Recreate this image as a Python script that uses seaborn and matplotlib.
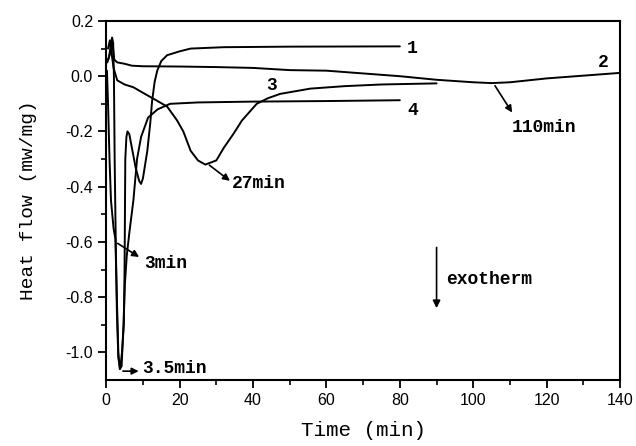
#!/usr/bin/env python3
"""
Heat flow vs time curves (DSC isothermal runs)
"""

import pandas as pd
import matplotlib.pyplot as plt
import seaborn as sns

# Curve 1
t1 = [0.3, 0.8, 1.2, 1.6, 1.9, 2.1, 2.3, 2.6, 2.9, 3.3, 3.8, 4.3, 4.8, 5.0, 5.1, 5.2, 5.5, 5.8,
      6.3, 7.0, 8.0, 9.0, 9.5, 10.0, 11.2, 12.0, 12.5, 13.2, 13.9, 15.0, 16.6, 20, 23, 32, 50, 80]
h1 = [0.05, 0.07, 0.11, 0.14, 0.12, 0.0, -0.3, -0.6, -0.85, -1.02, -1.06, -1.0, -0.9, -0.7, -0.5, -0.3, -0.22, -0.2,
      -0.21, -0.26, -0.33, -0.38, -0.39, -0.37, -0.27, -0.17, -0.09, -0.02, 0.02, 0.055, 0.076, 0.09, 0.1, 0.105, 0.107, 0.108]

# Curve 2
t2 = [0.5, 1.2, 1.7, 2.2, 3, 5, 7, 10, 20, 30, 40, 50, 60, 70, 80, 90, 100, 105, 110, 120, 130, 140]
h2 = [0.06, 0.09, 0.12, 0.06, 0.05, 0.045, 0.038, 0.036, 0.035, 0.033, 0.03, 0.022, 0.02, 0.01, 0.0, -0.013,
      -0.022, -0.025, -0.022, -0.008, 0.002, 0.012]

# Curve 3
t3 = [0.5, 1.0, 1.5, 2.0, 3, 5, 7.4, 10, 12, 14, 16.6, 19.3, 21, 23, 25, 27, 30, 32, 34.6, 37, 41, 44,
      47.4, 55.6, 65, 75, 90]
h3 = [0.1, 0.13, 0.08, 0.03, -0.015, -0.03, -0.04, -0.06, -0.075, -0.09, -0.11, -0.16, -0.2, -0.27, -0.305,
      -0.32, -0.305, -0.26, -0.21, -0.16, -0.1, -0.08, -0.064, -0.045, -0.036, -0.03, -0.026]

# Curve 4
t4 = [0.2, 0.5, 0.9, 1.3, 2.0, 2.5, 2.9, 3.3, 3.7, 4.2, 4.7, 5.1, 5.6, 6.3, 7.4, 8.4, 9.5, 11.4, 14, 17.4,
      25, 40, 60, 80]
h4 = [0.02, -0.1, -0.3, -0.45, -0.55, -0.59, -0.8, -1.0, -1.06, -1.05, -0.9, -0.75, -0.65, -0.567, -0.45,
      -0.3, -0.22, -0.15, -0.12, -0.1, -0.095, -0.092, -0.09, -0.087]

mono = 'Liberation Mono'

sns.set_style('ticks')
plt.rcParams['font.family'] = ['Liberation Sans', 'DejaVu Sans']
plt.rcParams['text.color'] = 'black'
plt.rcParams['axes.labelcolor'] = 'black'

fig = plt.figure(figsize=(6.36, 4.46), dpi=100)
ax = fig.add_axes([0.167, 0.148, 0.808, 0.805])

for t, h in [(t1, h1), (t2, h2), (t3, h3), (t4, h4)]:
    df = pd.DataFrame({'time': t, 'heat': h})
    sns.lineplot(data=df, x='time', y='heat', ax=ax, color='black', lw=1.4, sort=False)

ax.set_xlim(0, 140)
ax.set_ylim(-1.1, 0.2)
ax.set_xticks(range(0, 141, 20))
ax.set_xticks(range(10, 140, 20), minor=True)
ax.set_yticks([-1.0, -0.8, -0.6, -0.4, -0.2, 0.0, 0.2])
ax.set_yticks([-0.9, -0.7, -0.5, -0.3, -0.1, 0.1], minor=True)
ax.set_yticklabels(['-1.0', '-0.8', '-0.6', '-0.4', '-0.2', '0.0', '0.2'])
ax.tick_params(axis='both', which='major', direction='out', length=6, width=1.3,
               labelsize=11.5, colors='black')
ax.tick_params(axis='both', which='minor', direction='out', length=3.5, width=1.2, colors='black')
for s in ax.spines.values():
    s.set_linewidth(1.5)
    s.set_color('black')

ax.set_xlabel('Time (min)', fontfamily=mono, fontsize=15, labelpad=9)
ax.set_ylabel('Heat flow (mw/mg)', fontfamily=mono, fontsize=14, labelpad=20)

# Curve labels
lab = dict(fontfamily=mono, fontsize=13, fontweight='bold', va='center')
ax.text(82, 0.102, '1', **lab)
ax.text(134, 0.05, '2', **lab)
ax.text(43.5, -0.033, '3', **lab)
ax.text(82, -0.124, '4', **lab)

# Peak time annotations
arr = dict(arrowstyle='-|>', color='black', lw=1.2, mutation_scale=10)
ax.annotate('', xy=(111, -0.14), xytext=(105.5, -0.026), arrowprops=arr)
ax.text(110.5, -0.185, '110min', **lab)
ax.annotate('', xy=(34.3, -0.385), xytext=(27.5, -0.316), arrowprops=arr)
ax.text(34.3, -0.39, '27min', **lab)
ax.annotate('', xy=(9.6, -0.66), xytext=(2.5, -0.6), arrowprops=arr)
ax.text(10.4, -0.68, '3min', **lab)
ax.annotate('', xy=(9.6, -1.068), xytext=(3.8, -1.068), arrowprops=arr)
ax.text(9.8, -1.06, '3.5min', **lab)

# Exotherm direction
ax.annotate('', xy=(90, -0.85), xytext=(90, -0.61),
            arrowprops=dict(arrowstyle='-|>', color='black', lw=1.2, mutation_scale=11))
ax.text(92.5, -0.735, 'exotherm', **lab)

plt.savefig('out.png', dpi=100)
